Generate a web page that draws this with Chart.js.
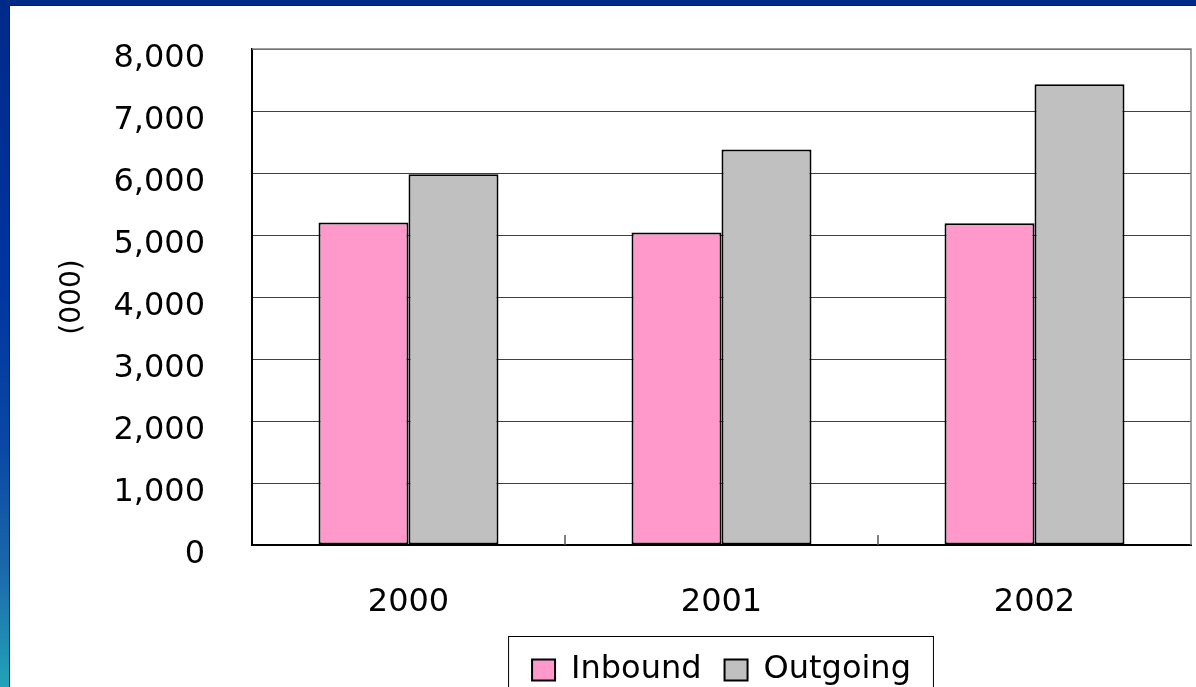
<!DOCTYPE html>
<html>
<head>
<meta charset="utf-8">
<script src="https://cdn.jsdelivr.net/npm/chart.js@4/dist/chart.umd.min.js"></script>
<style>
  html, body { margin: 0; padding: 0; }
  body {
    width: 1196px; height: 687px; overflow: hidden; position: relative;
    background: #002a88;
  }
  #side {
    position: absolute; left: 0; top: 0; width: 10px; height: 687px;
    background: linear-gradient(to bottom, #002a88 0%, #0034a0 40%, #0a48a4 65%, #1a66aa 82%, #22a4b8 100%);
  }
  #panel {
    position: absolute; left: 9px; top: 5px; width: 1187px; height: 682px;
    background: #fff; overflow: hidden;
    border-left: 1px solid #222; border-top: 1px solid #1a1a3a;
  }
  canvas { display: block; }
</style>
</head>
<body>
<div id="side"></div>
<div id="panel">
  <canvas id="chart" width="1186" height="760"></canvas>
</div>
<script>
// data
const years = ['2000', '2001', '2002'];
const inbound = [5200, 5040, 5190];
const outgoing = [5980, 6380, 7430];
const yTicks = [0, 1000, 2000, 3000, 4000, 5000, 6000, 7000, 8000];

const font = 'DejaVu Sans';

// plot frame (gray top/right), inner category ticks and legend box
const framePlugin = {
  id: 'frame',
  beforeDatasetsDraw(chart) {
    const { ctx, chartArea: a } = chart;
    ctx.save();
    ctx.strokeStyle = '#808080';
    ctx.lineWidth = 1.5;
    ctx.beginPath();
    ctx.moveTo(a.left, a.top);
    ctx.lineTo(a.right, a.top);
    ctx.lineTo(a.right, a.bottom);
    ctx.stroke();

    // small inward ticks between the categories
    const x = chart.scales.x;
    ctx.strokeStyle = '#555';
    ctx.lineWidth = 1.5;
    for (let i = 0; i < years.length - 1; i++) {
      const px = (x.getPixelForTick(i) + x.getPixelForTick(i + 1)) / 2;
      ctx.beginPath();
      ctx.moveTo(px, a.bottom);
      ctx.lineTo(px, a.bottom - 10);
      ctx.stroke();
    }
    ctx.restore();
  },
  afterDraw(chart) {
    const lg = chart.legend;
    if (!lg || !lg.legendHitBoxes.length) return;
    const boxes = lg.legendHitBoxes;
    const left = Math.min(...boxes.map(b => b.left)) - 24;
    const right = Math.max(...boxes.map(b => b.left + b.width)) + 22;
    const top = lg.top + 5;
    const { ctx } = chart;
    ctx.save();
    ctx.strokeStyle = '#000';
    ctx.lineWidth = 1;
    ctx.strokeRect(left + 0.5, top + 0.5, right - left, 90);
    ctx.restore();
  }
};

const ctx = document.getElementById('chart').getContext('2d');
const chart = new Chart(ctx, {
  type: 'bar',
  data: {
    labels: years,
    datasets: [
      {
        label: 'Inbound',
        data: inbound,
        backgroundColor: '#ff99cc',
        borderColor: '#000',
        borderWidth: 2,
        borderSkipped: false
      },
      {
        label: 'Outgoing',
        data: outgoing,
        backgroundColor: '#c0c0c0',
        borderColor: '#000',
        borderWidth: 2,
        borderSkipped: false
      }
    ]
  },
  options: {
    responsive: false,
    animation: false,
    datasets: {
      bar: { categoryPercentage: 0.575, barPercentage: 1.0 }
    },
    layout: {
      padding: { top: 43, right: 5, bottom: 70, left: 0 }
    },
    plugins: {
      tooltip: { enabled: false },
      legend: {
        position: 'bottom',
        fullSize: false,
        labels: {
          color: '#000',
          font: { family: font, size: 32 },
          boxWidth: 23,
          boxHeight: 21,
          padding: 23
        }
      }
    },
    scales: {
      x: {
        grid: { display: false },
        border: { display: true, color: '#000', width: 2 },
        ticks: {
          color: '#000',
          padding: 30,
          font: { family: font, size: 32 }
        },
        afterFit: s => { s.height = 86; }
      },
      y: {
        min: 0,
        max: 8000,
        afterBuildTicks: s => { s.ticks = yTicks.map(v => ({ value: v })); },
        // invisible tick marks keep the labels away from the axis
        grid: { color: '#404040', lineWidth: 1, drawTicks: true, tickLength: 47, tickColor: 'rgba(0,0,0,0)' },
        border: { display: true, color: '#000', width: 2 },
        ticks: {
          color: '#000',
          padding: 0,
          labelOffset: 10,
          font: { family: font, size: 32 },
          callback: v => v.toLocaleString('en-US')
        },
        title: {
          display: true,
          text: '(000)',
          color: '#000',
          font: { family: font, size: 28 },
          padding: { top: 46, bottom: 0 }
        },
        afterFit: s => { s.width = 242; }
      }
    }
  },
  plugins: [framePlugin]
});
</script>
</body>
</html>
